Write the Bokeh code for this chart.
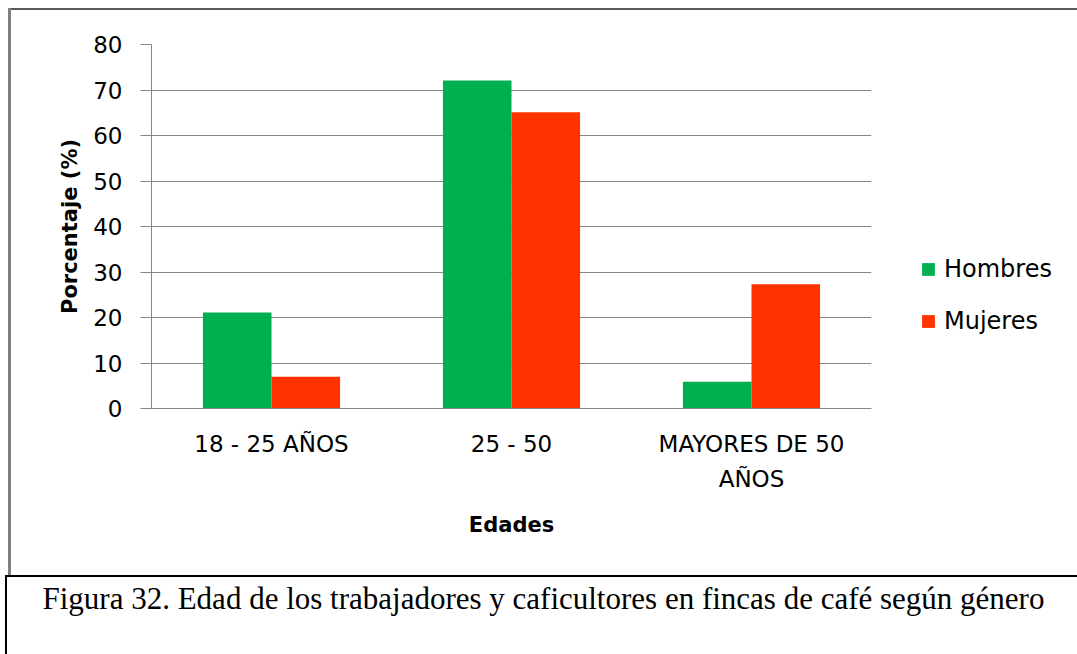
from bokeh.plotting import figure
from bokeh.models import (Range1d, FactorRange, ColumnDataSource, Legend, LegendItem,
                          SingleIntervalTicker, Title)
from bokeh.transform import dodge
from bokeh.embed import file_html
from bokeh.resources import INLINE

# ---- data ----
categories = ["18 - 25 AÑOS", "25 - 50", "MAYORES DE 50\nAÑOS"]
hombres = [21.1, 72.1, 5.9]
mujeres = [7.0, 65.1, 27.3]
series_names = ["Hombres", "Mujeres"]
y_ticks_interval = 10
y_max = 80
x_title = "Edades"
y_title = "Porcentaje (%)"
caption = "Figura 32. Edad de los trabajadores y caficultores en fincas de café según género"

GREEN = "#00B050"
RED = "#FF3300"
GRID = "#868686"
FONT = "DejaVu Sans"

src = ColumnDataSource(dict(cat=categories, h=hombres, m=mujeres))

frame_css = ", ".join([
    "linear-gradient(#7f7f7f,#7f7f7f) 8px 8px / 3px 567px no-repeat",
    "linear-gradient(#5a5a5a,#5a5a5a) 8px 8px / 1069px 2px no-repeat",
    "linear-gradient(#000,#000) 5px 575px / 1072px 2px no-repeat",
    "linear-gradient(#000,#000) 5px 575px / 2px 79px no-repeat",
    "#ffffff",
])

p = figure(frame_width=720, frame_height=364, x_range=FactorRange(*categories),
           y_range=Range1d(0, y_max), output_backend="svg", toolbar_location=None,
           min_border_left=151, min_border_right=206, min_border_top=44,
           min_border_bottom=246, styles={"background": frame_css})
p.outline_line_color = None
p.background_fill_color = "white"
p.border_fill_alpha = 0

bw = 1 / 3.5
r1 = p.vbar(x=dodge("cat", -bw / 2, range=p.x_range), top="h", width=bw,
            source=src, fill_color=GREEN, line_color=None)
r2 = p.vbar(x=dodge("cat", bw / 2, range=p.x_range), top="m", width=bw,
            source=src, fill_color=RED, line_color=None)

# axes
p.yaxis.ticker = SingleIntervalTicker(interval=y_ticks_interval)
for ax in (p.xaxis[0], p.yaxis[0]):
    ax.axis_line_color = GRID
    ax.axis_line_width = 1
    ax.major_tick_line_color = GRID
    ax.minor_tick_line_color = None
    ax.major_label_text_font = FONT
    ax.major_label_text_font_size = "23px"
    ax.major_label_text_color = "black"
    ax.axis_label_text_font = FONT
    ax.axis_label_text_font_size = "21px"
    ax.axis_label_text_font_style = "bold"
    ax.axis_label_text_color = "black"

p.yaxis.major_tick_out = 11
p.yaxis.major_tick_in = 0
p.yaxis.major_label_standoff = 18
p.yaxis.axis_label = y_title
p.yaxis.axis_label_standoff = 8

p.xaxis.major_tick_out = 0
p.xaxis.major_tick_in = 0
p.xaxis.major_label_standoff = 22
p.xaxis.major_label_text_line_height = 1.35
p.xaxis.axis_label = x_title
p.xaxis.axis_label_standoff = 18

p.xgrid.grid_line_color = None
p.ygrid.grid_line_color = GRID
p.ygrid.grid_line_width = 1

legend = Legend(items=[LegendItem(label=series_names[0], renderers=[r1]),
                       LegendItem(label=series_names[1], renderers=[r2])],
                location=(49, 73), orientation="vertical")
legend.border_line_color = None
legend.background_fill_alpha = 0
legend.padding = 0
legend.margin = 0
legend.glyph_width = 16
legend.glyph_height = 16
legend.label_height = 16
legend.spacing = 24
legend.label_standoff = 8
legend.label_text_font = FONT
legend.label_text_font_size = "24px"
legend.label_text_color = "black"
p.add_layout(legend, "right")

cap_title = Title(text=caption, align="left", offset=-109,
                  text_font="Liberation Serif", text_font_size="31px",
                  text_font_style="normal", text_color="black", standoff=78)
p.add_layout(cap_title, "below")

open("out.html", "w").write(file_html(p, INLINE))
